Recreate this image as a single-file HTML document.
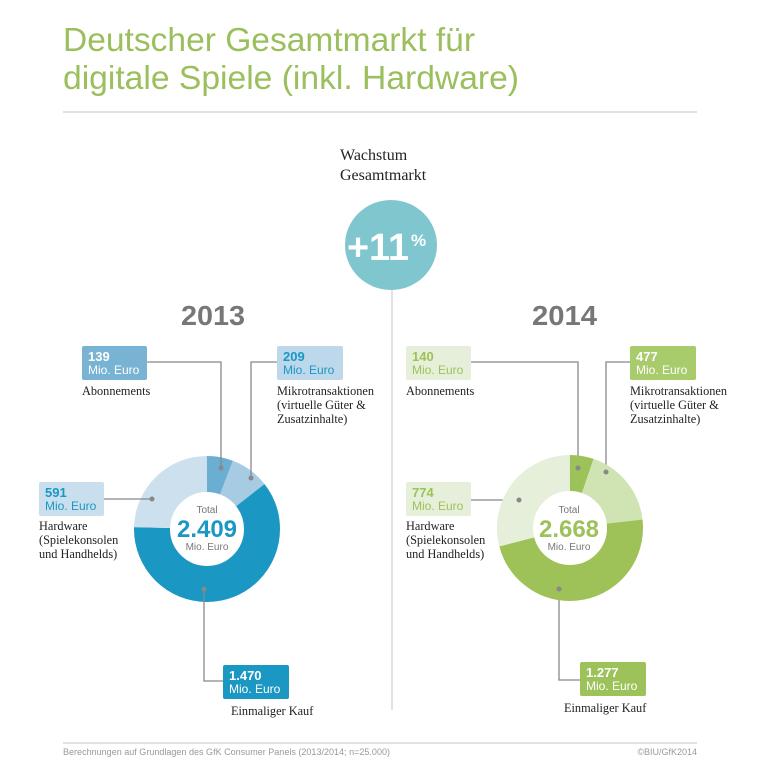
<!DOCTYPE html>
<html><head><meta charset="utf-8"><style>
html,body{margin:0;padding:0;background:#fff;}
svg{display:block;}
.ss{font-family:"Liberation Sans",sans-serif;}
.sf{font-family:"Liberation Serif",serif;fill:#222;font-size:12.3px;}
</style></head><body>
<svg width="758" height="782" viewBox="0 0 758 782" xmlns="http://www.w3.org/2000/svg">
<text class="ss" x="63" y="51" font-size="33" fill="#9bbf5c" textLength="412" lengthAdjust="spacingAndGlyphs">Deutscher Gesamtmarkt für</text>
<text class="ss" x="63" y="89" font-size="33" fill="#9bbf5c" textLength="456" lengthAdjust="spacingAndGlyphs">digitale Spiele (inkl. Hardware)</text>
<line x1="63" y1="112" x2="697" y2="112" stroke="#e2e2e2" stroke-width="2"/>

<text x="340" y="160" font-family="Liberation Serif,serif" font-size="16" fill="#222">Wachstum</text>
<text x="340" y="180" font-family="Liberation Serif,serif" font-size="16" fill="#222">Gesamtmarkt</text>
<line x1="392" y1="285" x2="392" y2="710" stroke="#d8d8d8" stroke-width="1.5"/>
<ellipse cx="391" cy="245" rx="46" ry="45" fill="#80c6cf"/>
<text class="ss" x="347" y="260" font-size="38" font-weight="bold" fill="#fff" textLength="62" lengthAdjust="spacingAndGlyphs">+11</text>
<text class="ss" x="411" y="246" font-size="17" font-weight="bold" fill="#fff">%</text>

<text class="ss" x="181" y="325" font-size="28" font-weight="bold" fill="#777" textLength="64" lengthAdjust="spacingAndGlyphs">2013</text>
<text class="ss" x="532" y="325" font-size="28" font-weight="bold" fill="#777" textLength="65" lengthAdjust="spacingAndGlyphs">2014</text>

<!-- Left donut -->
<g transform="rotate(-90 207 529)" fill="none" stroke-width="36">
<circle cx="207" cy="529" r="55" pathLength="100" stroke="#6aaed2" stroke-dasharray="5.77 94.23" stroke-dashoffset="0"/>
<circle cx="207" cy="529" r="55" pathLength="100" stroke="#a6cbe2" stroke-dasharray="8.68 91.32" stroke-dashoffset="-5.77"/>
<circle cx="207" cy="529" r="55" pathLength="100" stroke="#1b97c3" stroke-dasharray="61.02 38.98" stroke-dashoffset="-14.45"/>
<circle cx="207" cy="529" r="55" pathLength="100" stroke="#cde0ee" stroke-dasharray="24.53 75.47" stroke-dashoffset="-75.47"/>
</g>
<text class="ss" x="207" y="513" font-size="10" fill="#777" text-anchor="middle">Total</text>
<text class="ss" x="207" y="537" font-size="24" font-weight="bold" fill="#1b97c3" text-anchor="middle">2.409</text>
<text class="ss" x="207" y="550" font-size="10" fill="#777" text-anchor="middle">Mio. Euro</text>

<g stroke="#888" stroke-width="1.3" fill="none">
<polyline points="146,362 221,362 221,468"/>
<polyline points="277,362 251,362 251,478"/>
<polyline points="104,499 152,499"/>
<polyline points="204,589 204,681 223,681"/>
<polyline points="471,362 578,362 578,468"/>
<polyline points="630,362 606,362 606,472"/>
<polyline points="471,500 519,500"/>
<polyline points="559,589 559,680 580,680"/>
</g>
<g fill="#888">
<circle cx="221" cy="468" r="2.5"/><circle cx="251" cy="478" r="2.5"/><circle cx="152" cy="499" r="2.5"/><circle cx="204" cy="589" r="2.5"/>
</g>

<rect x="82" y="346" width="65" height="34" rx="2" fill="#78b3d4"/>
<text class="ss" x="88" y="361" font-size="13" font-weight="bold" fill="#fff">139</text>
<text class="ss" x="88" y="374" font-size="12" fill="#fff">Mio. Euro</text>
<text class="sf" x="82" y="395">Abonnements</text>

<rect x="277" y="346" width="66" height="34" rx="2" fill="#bcd8ea"/>
<text class="ss" x="283" y="361" font-size="13" font-weight="bold" fill="#1b97c3">209</text>
<text class="ss" x="283" y="374" font-size="12" fill="#1b97c3">Mio. Euro</text>
<text class="sf" x="277" y="395">Mikrotransaktionen</text>
<text class="sf" x="277" y="409">(virtuelle Güter &amp;</text>
<text class="sf" x="277" y="423">Zusatzinhalte)</text>

<rect x="39" y="482" width="65" height="34" rx="2" fill="#c9dfee"/>
<text class="ss" x="45" y="497" font-size="13" font-weight="bold" fill="#1b97c3">591</text>
<text class="ss" x="45" y="510" font-size="12" fill="#1b97c3">Mio. Euro</text>
<text class="sf" x="39" y="530">Hardware</text>
<text class="sf" x="39" y="544">(Spielekonsolen</text>
<text class="sf" x="39" y="558">und Handhelds)</text>

<rect x="223" y="665" width="66" height="34" rx="2" fill="#1b97c3"/>
<text class="ss" x="229" y="680" font-size="13" font-weight="bold" fill="#fff">1.470</text>
<text class="ss" x="229" y="693" font-size="12" fill="#fff">Mio. Euro</text>
<text class="sf" x="231" y="715">Einmaliger Kauf</text>

<!-- Right donut -->
<g transform="rotate(-90 570 528)" fill="none" stroke-width="36">
<circle cx="570" cy="528" r="55" pathLength="100" stroke="#9dc25a" stroke-dasharray="5.25 94.75" stroke-dashoffset="0"/>
<circle cx="570" cy="528" r="55" pathLength="100" stroke="#d0e4b3" stroke-dasharray="17.88 82.12" stroke-dashoffset="-5.25"/>
<circle cx="570" cy="528" r="55" pathLength="100" stroke="#9fc258" stroke-dasharray="47.86 52.14" stroke-dashoffset="-23.13"/>
<circle cx="570" cy="528" r="55" pathLength="100" stroke="#e5efd9" stroke-dasharray="29.01 70.99" stroke-dashoffset="-70.99"/>
</g>
<text class="ss" x="569" y="513" font-size="10" fill="#777" text-anchor="middle">Total</text>
<text class="ss" x="569" y="537" font-size="24" font-weight="bold" fill="#9dc25a" text-anchor="middle">2.668</text>
<text class="ss" x="569" y="550" font-size="10" fill="#777" text-anchor="middle">Mio. Euro</text>
<g fill="#888">
<circle cx="578" cy="468" r="2.5"/><circle cx="606" cy="472" r="2.5"/><circle cx="519" cy="500" r="2.5"/><circle cx="559" cy="589" r="2.5"/>
</g>

<rect x="406" y="346" width="65" height="34" rx="2" fill="#e6efd9"/>
<text class="ss" x="412" y="361" font-size="13" font-weight="bold" fill="#9dc25a">140</text>
<text class="ss" x="412" y="374" font-size="12" fill="#9dc25a">Mio. Euro</text>
<text class="sf" x="406" y="395">Abonnements</text>

<rect x="630" y="346" width="66" height="34" rx="2" fill="#a8cb6c"/>
<text class="ss" x="636" y="361" font-size="13" font-weight="bold" fill="#fff">477</text>
<text class="ss" x="636" y="374" font-size="12" fill="#fff">Mio. Euro</text>
<text class="sf" x="630" y="395">Mikrotransaktionen</text>
<text class="sf" x="630" y="409">(virtuelle Güter &amp;</text>
<text class="sf" x="630" y="423">Zusatzinhalte)</text>

<rect x="406" y="482" width="65" height="34" rx="2" fill="#e6efd9"/>
<text class="ss" x="412" y="497" font-size="13" font-weight="bold" fill="#9dc25a">774</text>
<text class="ss" x="412" y="510" font-size="12" fill="#9dc25a">Mio. Euro</text>
<text class="sf" x="406" y="530">Hardware</text>
<text class="sf" x="406" y="544">(Spielekonsolen</text>
<text class="sf" x="406" y="558">und Handhelds)</text>

<rect x="580" y="662" width="66" height="34" rx="2" fill="#9dc25a"/>
<text class="ss" x="586" y="677" font-size="13" font-weight="bold" fill="#fff">1.277</text>
<text class="ss" x="586" y="690" font-size="12" fill="#fff">Mio. Euro</text>
<text class="sf" x="564" y="712">Einmaliger Kauf</text>

<line x1="63" y1="743" x2="697" y2="743" stroke="#e2e2e2" stroke-width="2"/>
<text class="ss" x="63" y="755" font-size="9" fill="#999" textLength="327" lengthAdjust="spacingAndGlyphs">Berechnungen auf Grundlagen des GfK Consumer Panels (2013/2014; n=25.000)</text>
<text class="ss" x="697" y="755" font-size="9" fill="#999" text-anchor="end">©BIU/GfK2014</text>
</svg>
</body></html>
